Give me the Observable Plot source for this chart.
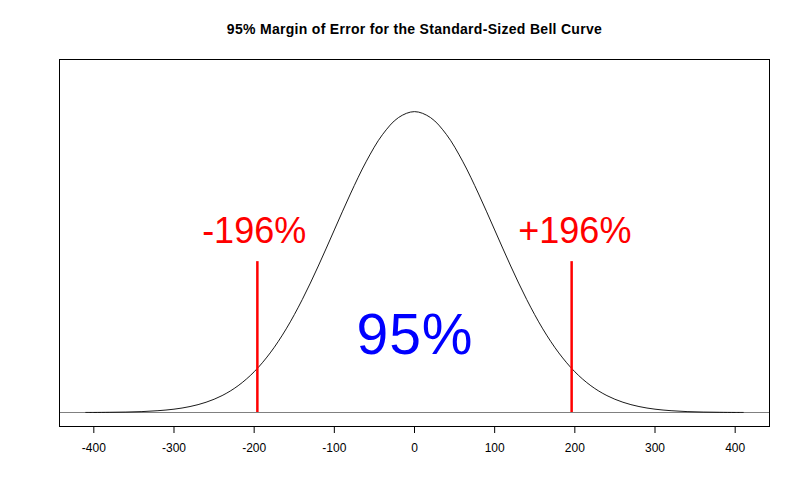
<!DOCTYPE html>
<html>
<head>
<meta charset="utf-8">
<script src="https://cdn.jsdelivr.net/npm/d3@7"></script>
<script src="https://cdn.jsdelivr.net/npm/@observablehq/plot@0.6"></script>
<style>
  html, body { margin: 0; padding: 0; background: #fff; }
  #chart svg { display: block; }
</style>
</head>
<body>
<div id="chart"></div>
<script>
// Curve values (density in per-mille units)
const curveX = [-410, -400, -380, -360, -340, -320, -300, -280, -260, -240, -220, -200, -180, -160, -140, -120, -100, -80, -60, -40, -20, 0,
                20, 40, 60, 80, 100, 120, 140, 160, 180, 200, 220, 240, 260, 280, 300, 320, 340, 360, 380, 400, 410];
const curveY = [0.001, 0.001, 0.003, 0.006, 0.012, 0.024, 0.044, 0.079, 0.136, 0.224, 0.355, 0.540, 0.790, 1.109, 1.497, 1.942, 2.420, 2.897, 3.332, 3.683, 3.910, 3.989,
                3.910, 3.683, 3.332, 2.897, 2.420, 1.942, 1.497, 1.109, 0.790, 0.540, 0.355, 0.224, 0.136, 0.079, 0.044, 0.024, 0.012, 0.006, 0.003, 0.001, 0.001];

// Margin-of-error markers
const markerX = [-196, 196];
const markerTop = [2.0, 2.0];
const markerLabelX = [-200, 200];
const markerLabelY = [2.4, 2.4];
const markerLabels = ["-196%", "+196%"];

// Center label
const centerLabel = ["95%"];
const centerLabelX = [0];
const centerLabelY = [1.0];

// Axis ticks
const xTicks = [-400, -300, -200, -100, 0, 100, 200, 300, 400];

const title = "95% Margin of Error for the Standard-Sized Bell Curve";

const curve = curveX.map((x, i) => ({x, y: curveY[i]}));
const markers = markerX.map((x, i) => ({x, y1: 0, y2: markerTop[i]}));
const mLabels = markerLabels.map((t, i) => ({t, x: markerLabelX[i], y: markerLabelY[i]}));
const cLabels = centerLabel.map((t, i) => ({t, x: centerLabelX[i], y: centerLabelY[i]}));

const chart = Plot.plot({
  width: 800,
  height: 500,
  marginLeft: 59,
  marginRight: 31,
  marginTop: 59,
  marginBottom: 74,
  style: {fontFamily: "'Liberation Sans', Arial, Helvetica, sans-serif", color: "black", background: "white"},
  x: {domain: [-442.8, 442.8]},
  y: {domain: [-0.1856, 4.68]},
  marks: [
    Plot.ruleY([0], {stroke: "#808080", strokeWidth: 1}),
    Plot.line(curve, {x: "x", y: "y", stroke: "black", strokeWidth: 0.9, curve: "catmull-rom"}),
    Plot.ruleX(markers, {x: "x", y1: "y1", y2: "y2", stroke: "#ff0000", strokeWidth: 2.5}),
    Plot.text(mLabels, {x: "x", y: "y", text: "t", fill: "#ff0000", fontSize: 36, textAnchor: "middle", lineAnchor: "middle"}),
    Plot.text(cLabels, {x: "x", y: "y", text: "t", fill: "#0000ff", fontSize: 57, textAnchor: "middle", lineAnchor: "middle", dx: 0.5, dy: -1}),
    Plot.frame({stroke: "black", strokeWidth: 1}),
    Plot.axisX({ticks: xTicks, tickSize: 7, tickPadding: 10, fontSize: 12, tickFormat: d => String(d), label: null, stroke: "black", fill: "black"}),
    Plot.axisY({ticks: [], label: null}),
    Plot.text([title], {frameAnchor: "top", dy: -29.5, text: d => d, fontSize: 14, fontWeight: "bold", fill: "black", lineAnchor: "middle"})
  ]
});
// slight glyph spacing as rendered in the reference
chart.querySelectorAll("text").forEach(t => {
  if (t.textContent === "95%") t.setAttribute("letter-spacing", "1px");
  if (t.textContent === title) t.setAttribute("letter-spacing", "0.3px");
});
document.getElementById("chart").appendChild(chart);
</script>
</body>
</html>
